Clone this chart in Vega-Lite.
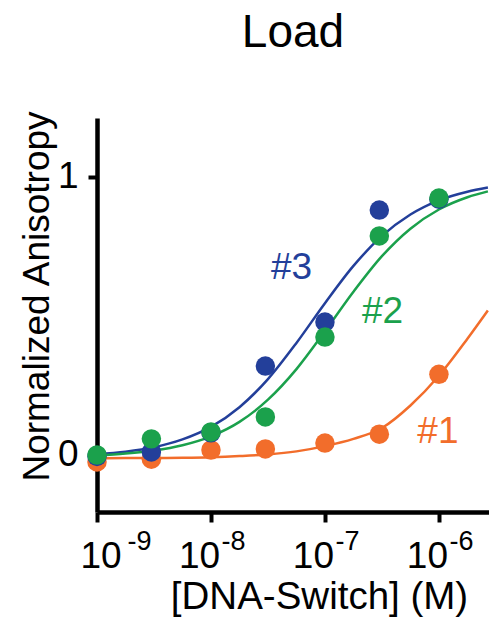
{
  "$schema": "https://vega.github.io/schema/vega-lite/v6.json",
  "autosize": "none",
  "padding": {"left": 97, "top": 118, "right": 0, "bottom": 109},
  "width": 392,
  "height": 394,
  "background": "white",
  "config": {
    "view": {"stroke": null},
    "font": "Liberation Sans",
    "text": {"font": "Liberation Sans"}
  },
  "title": {
    "text": "Load",
    "fontSize": 46,
    "fontWeight": "normal",
    "font": "Liberation Sans",
    "color": "black",
    "anchor": "middle",
    "frame": "group",
    "baseline": "alphabetic",
    "offset": 17
  },
  "resolve": {"axis": {"x": "independent"}},
  "datasets": {
    "curves": [
      {"series": "#1", "x": 1e-9, "y": -0.012},
      {"series": "#1", "x": 1.778e-9, "y": -0.011},
      {"series": "#1", "x": 3.162e-9, "y": -0.011},
      {"series": "#1", "x": 5.623e-9, "y": -0.010},
      {"series": "#1", "x": 1e-8, "y": -0.008},
      {"series": "#1", "x": 1.778e-8, "y": -0.004},
      {"series": "#1", "x": 3.162e-8, "y": 0.002},
      {"series": "#1", "x": 5.623e-8, "y": 0.013},
      {"series": "#1", "x": 1e-7, "y": 0.032},
      {"series": "#1", "x": 1.778e-7, "y": 0.058},
      {"series": "#1", "x": 3.162e-7, "y": 0.097},
      {"series": "#1", "x": 5.623e-7, "y": 0.178},
      {"series": "#1", "x": 1e-6, "y": 0.285},
      {"series": "#1", "x": 1.778e-6, "y": 0.418},
      {"series": "#1", "x": 2.69e-6, "y": 0.52},
      {"series": "#3", "x": 1e-9, "y": 0.003},
      {"series": "#3", "x": 1.778e-9, "y": 0.012},
      {"series": "#3", "x": 3.162e-9, "y": 0.028},
      {"series": "#3", "x": 5.623e-9, "y": 0.056},
      {"series": "#3", "x": 1e-8, "y": 0.101},
      {"series": "#3", "x": 1.778e-8, "y": 0.172},
      {"series": "#3", "x": 3.162e-8, "y": 0.273},
      {"series": "#3", "x": 5.623e-8, "y": 0.403},
      {"series": "#3", "x": 1e-7, "y": 0.546},
      {"series": "#3", "x": 1.778e-7, "y": 0.68},
      {"series": "#3", "x": 3.162e-7, "y": 0.788},
      {"series": "#3", "x": 5.623e-7, "y": 0.865},
      {"series": "#3", "x": 1e-6, "y": 0.916},
      {"series": "#3", "x": 1.778e-6, "y": 0.947},
      {"series": "#3", "x": 2.69e-6, "y": 0.962},
      {"series": "#2", "x": 1e-9, "y": -0.002},
      {"series": "#2", "x": 1.778e-9, "y": 0.005},
      {"series": "#2", "x": 3.162e-9, "y": 0.016},
      {"series": "#2", "x": 5.623e-9, "y": 0.035},
      {"series": "#2", "x": 1e-8, "y": 0.067},
      {"series": "#2", "x": 1.778e-8, "y": 0.119},
      {"series": "#2", "x": 3.162e-8, "y": 0.199},
      {"series": "#2", "x": 5.623e-8, "y": 0.309},
      {"series": "#2", "x": 1e-7, "y": 0.445},
      {"series": "#2", "x": 1.778e-7, "y": 0.587},
      {"series": "#2", "x": 3.162e-7, "y": 0.715},
      {"series": "#2", "x": 5.623e-7, "y": 0.814},
      {"series": "#2", "x": 1e-6, "y": 0.883},
      {"series": "#2", "x": 1.778e-6, "y": 0.927},
      {"series": "#2", "x": 2.69e-6, "y": 0.948}
    ],
    "points": [
      {"series": "#1", "order": 1, "x": 1e-9, "y": -0.025},
      {"series": "#1", "order": 1, "x": 3e-9, "y": -0.015},
      {"series": "#1", "order": 1, "x": 1e-8, "y": 0.018},
      {"series": "#1", "order": 1, "x": 3e-8, "y": 0.022},
      {"series": "#1", "order": 1, "x": 1e-7, "y": 0.043},
      {"series": "#1", "order": 1, "x": 3e-7, "y": 0.075},
      {"series": "#1", "order": 1, "x": 1e-6, "y": 0.29},
      {"series": "#3", "order": 2, "x": 1e-9, "y": -0.005},
      {"series": "#3", "order": 2, "x": 3e-9, "y": 0.011},
      {"series": "#3", "order": 2, "x": 1e-8, "y": 0.08},
      {"series": "#3", "order": 2, "x": 3e-8, "y": 0.32},
      {"series": "#3", "order": 2, "x": 1e-7, "y": 0.478},
      {"series": "#3", "order": 2, "x": 3e-7, "y": 0.881},
      {"series": "#3", "order": 2, "x": 1e-6, "y": 0.92},
      {"series": "#2", "order": 3, "x": 1e-9, "y": 0.0},
      {"series": "#2", "order": 3, "x": 3e-9, "y": 0.058},
      {"series": "#2", "order": 3, "x": 1e-8, "y": 0.083},
      {"series": "#2", "order": 3, "x": 3e-8, "y": 0.137},
      {"series": "#2", "order": 3, "x": 1e-7, "y": 0.424},
      {"series": "#2", "order": 3, "x": 3e-7, "y": 0.788},
      {"series": "#2", "order": 3, "x": 1e-6, "y": 0.924}
    ],
    "labels": [
      {"series": "#3", "x": 5.1e-8, "y": 0.673},
      {"series": "#2", "x": 3.2e-7, "y": 0.514},
      {"series": "#1", "x": 9.8e-7, "y": 0.083}
    ]
  },
  "encoding": {
    "y": {
      "field": "y",
      "type": "quantitative",
      "scale": {"domain": [-0.205, 1.212], "nice": false, "zero": false},
      "axis": {
        "values": [0, 1],
        "grid": false,
        "domainColor": "black",
        "domainWidth": 4.5,
        "tickColor": "black",
        "tickWidth": 4,
        "tickSize": 9,
        "labelFont": "Liberation Sans",
        "labelFontSize": 37,
        "labelColor": "black",
        "labelPadding": 10,
        "title": "Normalized Anisotropy",
        "titleFont": "Liberation Sans",
        "titleFontSize": 37,
        "titleFontWeight": "normal",
        "titleColor": "black",
        "titleAngle": -90,
        "titleAlign": "center",
        "titleBaseline": "alphabetic",
        "titleX": -49,
        "titleY": 178
      }
    },
    "color": {
      "field": "series",
      "type": "nominal",
      "scale": {"domain": ["#1", "#2", "#3"], "range": ["#f26d2b", "#1ba14c", "#233f9a"]},
      "legend": null
    }
  },
  "layer": [
    {
      "data": {"name": "curves"},
      "mark": {"type": "line", "strokeWidth": 2.5, "interpolate": "monotone"},
      "encoding": {
        "detail": {"field": "series"},
        "x": {
          "field": "x",
          "type": "quantitative",
          "scale": {"type": "log", "domain": [1e-9, 2.75e-6], "nice": false},
          "axis": {
            "orient": "bottom",
            "values": [1e-9, 1e-8, 1e-7, 1e-6],
            "labelExpr": "'10'",
            "grid": false,
            "domainColor": "black",
            "domainWidth": 4.5,
            "tickColor": "black",
            "tickWidth": 4,
            "tickSize": 10,
            "labelFont": "Liberation Sans",
            "labelFontSize": 37,
            "labelColor": "black",
            "labelBaseline": "alphabetic",
            "labelPadding": 45,
            "labelOffset": -12,
            "labelFlush": true,
            "labelFlushOffset": 5,
            "labelOverlap": false,
            "title": "[DNA-Switch] (M)",
            "titleFont": "Liberation Sans",
            "titleFontSize": 38.5,
            "titleFontWeight": "normal",
            "titleColor": "black",
            "titleAlign": "center",
            "titleBaseline": "alphabetic",
            "titleX": 222,
            "titleY": 96
          }
        }
      }
    },
    {
      "data": {"name": "points"},
      "mark": {"type": "circle", "size": 380, "opacity": 1},
      "encoding": {
        "order": {"field": "order", "type": "quantitative"},
        "x": {
          "field": "x",
          "type": "quantitative",
          "scale": {"type": "log", "domain": [1e-9, 2.75e-6], "nice": false},
          "axis": {
            "orient": "bottom",
            "values": [1e-9, 1e-8, 1e-7, 1e-6],
            "labelExpr": "datum.value < 5e-9 ? '-9' : datum.value < 5e-8 ? '-8' : datum.value < 5e-7 ? '-7' : '-6'",
            "grid": false,
            "domain": false,
            "ticks": false,
            "tickSize": 0,
            "labelFont": "Liberation Sans",
            "labelFontSize": 27,
            "labelColor": "black",
            "labelBaseline": "alphabetic",
            "labelPadding": 37,
            "labelOffset": 22,
            "labelFlush": true,
            "labelFlushOffset": -8,
            "labelOverlap": false,
            "title": null
          }
        }
      }
    },
    {
      "data": {"name": "labels"},
      "mark": {"type": "text", "fontSize": 37, "font": "Liberation Sans", "align": "center", "baseline": "middle"},
      "encoding": {
        "text": {"field": "series"},
        "x": {
          "field": "x",
          "type": "quantitative",
          "scale": {"type": "log", "domain": [1e-9, 2.75e-6], "nice": false},
          "axis": null
        }
      }
    }
  ]
}
